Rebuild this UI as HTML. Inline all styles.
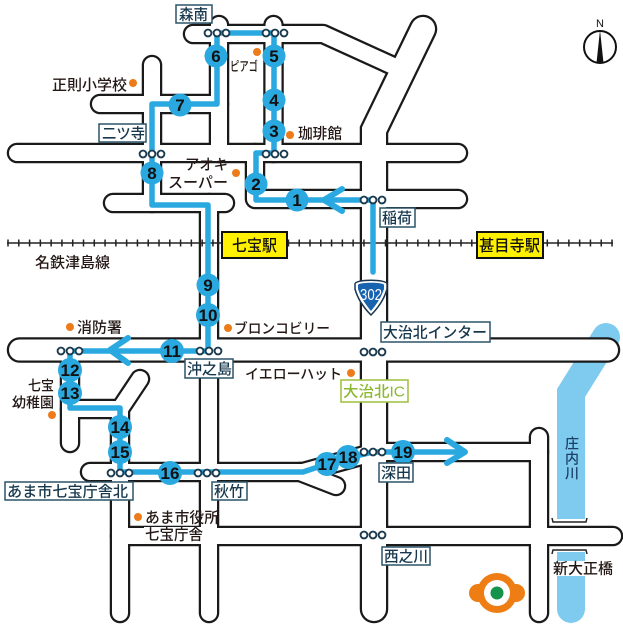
<!DOCTYPE html>
<html><head><meta charset="utf-8"><style>
html,body{margin:0;padding:0;background:#fff;}
svg{display:block;}
text{font-family:"Liberation Sans","Noto Sans CJK JP",sans-serif;}
</style></head><body>
<svg width="623" height="628" viewBox="0 0 623 628" xmlns="http://www.w3.org/2000/svg">
<rect width="623" height="628" fill="#fff"/>
<!-- river -->
<path d="M606,337 L571,393 L571,609" fill="none" stroke="#7ecbef" stroke-width="28" stroke-linecap="round" stroke-linejoin="miter"/>
<rect x="549" y="519" width="45" height="33" fill="#fff"/>

<!-- roads outline -->
<g fill="none" stroke="#1a1a1a" stroke-linecap="round" stroke-linejoin="round">
 <g stroke-width="20.5">
  <path d="M193,34 L323,34 L402,70"/>
  <path d="M219,25 L219,153"/>
  <path d="M273.5,25 L273.5,153"/>
  <path d="M17,153 L458,153"/>
  <path d="M152,65 L152,203"/>
  <path d="M100,104 L219,104"/>
  <path d="M113,203 L225,203"/>
  <path d="M209,203 L209,613"/>
  <path d="M255,153 L255,199 L458,199"/>
  <path d="M70,350 L70,443"/>
  <path d="M70,409 L120,409 L140,379"/>
  <path d="M120,409 L120,613"/>
  <path d="M90,472 L303,472 L372,453"/>
  <path d="M300,472 L336,486"/>
  <path d="M374,452 L539,452"/>
  <path d="M539,437 L539,613"/>
  <path d="M120,536 L613,536"/>
 </g>
 <path stroke-width="25.5" d="M19.5,350 L607.5,350"/>
 <path stroke-width="28.5" stroke-linejoin="miter" d="M374,609 L374,130 L423,29"/>
</g>
<!-- roads fill -->
<g fill="none" stroke="#fff" stroke-linecap="round" stroke-linejoin="round">
 <g stroke-width="16">
  <path d="M193,34 L323,34 L402,70"/>
  <path d="M219,25 L219,153"/>
  <path d="M273.5,25 L273.5,153"/>
  <path d="M17,153 L458,153"/>
  <path d="M152,65 L152,203"/>
  <path d="M100,104 L219,104"/>
  <path d="M113,203 L225,203"/>
  <path d="M209,203 L209,613"/>
  <path d="M255,153 L255,199 L458,199"/>
  <path d="M70,350 L70,443"/>
  <path d="M70,409 L120,409 L140,379"/>
  <path d="M120,409 L120,613"/>
  <path d="M90,472 L303,472 L372,453"/>
  <path d="M300,472 L336,486"/>
  <path d="M374,452 L539,452"/>
  <path d="M539,437 L539,613"/>
  <path d="M120,536 L613,536"/>
 </g>
 <path stroke-width="21" d="M19.5,350 L607.5,350"/>
 <path stroke-width="24" stroke-linejoin="miter" d="M374,609 L374,130 L423,29"/>
</g>

<!-- bridge brackets -->
<g fill="none" stroke="#222" stroke-width="1.5">
 <path d="M552,518 L553,522 L586,522 L587,518"/>
 <path d="M552,554 L553,550 L586,550 L587,554"/>
</g>

<!-- railway -->
<line x1="7" y1="243" x2="613" y2="243" stroke="#222" stroke-width="1.5"/>
<line x1="7.25" y1="243" x2="613" y2="243" stroke="#222" stroke-width="7" stroke-dasharray="1.5 9.286"/>

<!-- route -->
<g fill="none" stroke="#29a9e0" stroke-linejoin="round" stroke-linecap="round">
 <path stroke-width="5.5" d="M373,272 L373,200 L256,200 L256,153 L274,153 L274,33 L217,33 L217,104 L152,104 L152,205 L208,205 L208,351 L70,351 L70,408 L120,408 L120,472 L303,472 L327,464 L348,458 L373,452 L463,452"/>
 <path stroke-width="6" d="M342,189 L324,200 L342,211"/>
 <path stroke-width="6" d="M128,338 L110,350 L128,363"/>
 <path stroke-width="6" d="M447,440 L465,452 L447,463"/>
</g>

<!-- numbered circles -->
<g fill="#29a9e0">
 <circle cx="297" cy="200" r="11.5"/>
 <circle cx="256" cy="184" r="11.5"/>
 <circle cx="274" cy="131" r="11.5"/>
 <circle cx="274" cy="100" r="11.5"/>
 <circle cx="274" cy="56" r="11.5"/>
 <circle cx="216" cy="56" r="11.5"/>
 <circle cx="180" cy="105" r="11.5"/>
 <circle cx="152" cy="173" r="11.5"/>
 <circle cx="208" cy="285" r="11.5"/>
 <circle cx="208" cy="315" r="12"/>
 <circle cx="172" cy="351" r="12"/>
 <circle cx="70" cy="370" r="12"/>
 <circle cx="70" cy="393" r="12"/>
 <circle cx="120" cy="427" r="12"/>
 <circle cx="120" cy="452" r="12"/>
 <circle cx="170" cy="473" r="12"/>
 <circle cx="327" cy="464" r="12"/>
 <circle cx="348" cy="457" r="12"/>
 <circle cx="403" cy="452" r="12"/>
</g>
<g fill="#111" font-weight="bold" font-size="17" text-anchor="middle">
 <text x="297" y="206">1</text>
 <text x="256" y="190">2</text>
 <text x="274" y="137">3</text>
 <text x="274" y="106">4</text>
 <text x="274" y="62">5</text>
 <text x="216" y="62">6</text>
 <text x="180" y="111">7</text>
 <text x="152" y="179">8</text>
 <text x="208" y="291">9</text>
 <text x="208" y="321" textLength="19" lengthAdjust="spacingAndGlyphs">10</text>
 <text x="172" y="357" textLength="18" lengthAdjust="spacingAndGlyphs">11</text>
 <text x="70" y="376" textLength="19" lengthAdjust="spacingAndGlyphs">12</text>
 <text x="70" y="399" textLength="19" lengthAdjust="spacingAndGlyphs">13</text>
 <text x="120" y="433" textLength="19" lengthAdjust="spacingAndGlyphs">14</text>
 <text x="120" y="458" textLength="19" lengthAdjust="spacingAndGlyphs">15</text>
 <text x="170" y="479" textLength="19" lengthAdjust="spacingAndGlyphs">16</text>
 <text x="327" y="470" textLength="19" lengthAdjust="spacingAndGlyphs">17</text>
 <text x="348" y="463" textLength="19" lengthAdjust="spacingAndGlyphs">18</text>
 <text x="403" y="458" textLength="19" lengthAdjust="spacingAndGlyphs">19</text>
</g>

<!-- station icons -->
<g fill="#fff" stroke="#1b3a4e" stroke-width="1.9">
 <circle cx="208" cy="33" r="3.4"/><circle cx="217" cy="33" r="3.4"/><circle cx="226" cy="33" r="3.4"/>
 <circle cx="266" cy="33" r="3.4"/><circle cx="275" cy="33" r="3.4"/><circle cx="284" cy="33" r="3.4"/>
 <circle cx="266" cy="154" r="3.4"/><circle cx="275" cy="154" r="3.4"/><circle cx="284" cy="154" r="3.4"/>
 <circle cx="143" cy="154" r="3.4"/><circle cx="152" cy="154" r="3.4"/><circle cx="161" cy="154" r="3.4"/>
 <circle cx="364" cy="200" r="3.4"/><circle cx="373" cy="200" r="3.4"/><circle cx="382" cy="200" r="3.4"/>
 <circle cx="200" cy="351" r="3.4"/><circle cx="209" cy="351" r="3.4"/><circle cx="218" cy="351" r="3.4"/>
 <circle cx="61" cy="351" r="3.4"/><circle cx="70" cy="351" r="3.4"/><circle cx="79" cy="351" r="3.4"/>
 <circle cx="364" cy="352" r="3.4"/><circle cx="373" cy="352" r="3.4"/><circle cx="382" cy="352" r="3.4"/>
 <circle cx="111" cy="473" r="3.4"/><circle cx="120" cy="473" r="3.4"/><circle cx="129" cy="473" r="3.4"/>
 <circle cx="198" cy="473" r="3.4"/><circle cx="207" cy="473" r="3.4"/><circle cx="216" cy="473" r="3.4"/>
 <circle cx="364" cy="452" r="3.4"/><circle cx="373" cy="452" r="3.4"/><circle cx="382" cy="452" r="3.4"/>
 <circle cx="364" cy="535" r="3.4"/><circle cx="373" cy="535" r="3.4"/><circle cx="382" cy="535" r="3.4"/>
</g>

<!-- 302 shield -->
<path d="M355,284 C355,279 387,279 387,284 L387,289 C384,300 377,309 371,315 C365,309 358,300 355,289 Z" fill="#fff" stroke="#1b3550" stroke-width="1.5"/>
<path d="M358,285 C358,282 384,282 384,285 L384,289 C381,298 376,305 371,311 C366,305 361,298 358,289 Z" fill="#1763b0"/>
<text x="371" y="300" fill="#fff" font-size="16" text-anchor="middle" textLength="22" lengthAdjust="spacingAndGlyphs">302</text>

<!-- station label boxes -->
<g fill="#fff" stroke="#2b5468" stroke-width="1.5">
 <rect x="176" y="5" width="36" height="18"/>
 <rect x="99" y="124" width="47" height="18"/>
 <rect x="380" y="208" width="35" height="19"/>
 <rect x="185" y="359" width="48" height="19"/>
 <rect x="381" y="322" width="109" height="20"/>
 <rect x="5" y="482" width="128" height="18"/>
 <rect x="212" y="482" width="35" height="18"/>
 <rect x="379" y="463" width="34" height="19"/>
 <rect x="382" y="547" width="48" height="18"/>
</g>
<g fill="#17384d" font-size="15" font-weight="500">
 <text x="179" y="19.7" textLength="29" lengthAdjust="spacingAndGlyphs">森南</text>
 <text x="102" y="138.7" textLength="43" lengthAdjust="spacingAndGlyphs">二ツ寺</text>
 <text x="382" y="223.2" textLength="30" lengthAdjust="spacingAndGlyphs">稲荷</text>
 <text x="187" y="374.2" textLength="45" lengthAdjust="spacingAndGlyphs">沖之島</text>
 <text x="383" y="337.7" textLength="104" lengthAdjust="spacingAndGlyphs">大治北インター</text>
 <text x="7" y="496.7" textLength="121" lengthAdjust="spacingAndGlyphs">あま市七宝庁舎北</text>
 <text x="214" y="496.7" textLength="30" lengthAdjust="spacingAndGlyphs">秋竹</text>
 <text x="381" y="478.2" textLength="30" lengthAdjust="spacingAndGlyphs">深田</text>
 <text x="384" y="561.7" textLength="44" lengthAdjust="spacingAndGlyphs">西之川</text>
</g>
<rect x="341" y="380" width="67" height="22" fill="#fff" stroke="#9bbf3b" stroke-width="1.5"/>
<text x="343" y="396.7" fill="#8db831" font-size="15" font-weight="500" textLength="62" lengthAdjust="spacingAndGlyphs">大治北IC</text>

<!-- train stations -->
<rect x="222" y="232" width="65" height="26" fill="#fff100" stroke="#111" stroke-width="2"/>
<text x="232" y="251" fill="#111" font-size="16" font-weight="500" textLength="45" lengthAdjust="spacingAndGlyphs">七宝駅</text>
<rect x="477" y="232" width="66" height="26" fill="#fff100" stroke="#111" stroke-width="2"/>
<text x="479" y="251" fill="#111" font-size="16" font-weight="500" textLength="61" lengthAdjust="spacingAndGlyphs">甚目寺駅</text>

<!-- white backgrounds -->
<rect x="144" y="527" width="62" height="14" fill="#fff"/>
<rect x="551" y="561" width="64" height="15" fill="#fff"/>

<!-- landmark dots -->
<g fill="#ee7b1a">
 <circle cx="133" cy="83" r="4"/>
 <circle cx="257" cy="52" r="4"/>
 <circle cx="290" cy="135" r="4"/>
 <circle cx="236" cy="173" r="4"/>
 <circle cx="70" cy="327" r="4"/>
 <circle cx="228" cy="328" r="4"/>
 <circle cx="351" cy="373" r="4"/>
 <circle cx="52" cy="415" r="4"/>
 <circle cx="138" cy="517" r="4"/>
</g>

<!-- plain labels -->
<g fill="#231815" font-size="15" font-weight="500">
 <text x="52" y="90.2" textLength="75" lengthAdjust="spacingAndGlyphs">正則小学校</text>
 <text x="230" y="70.8" font-size="13" textLength="28" lengthAdjust="spacingAndGlyphs">ピアゴ</text>
 <text x="298" y="138.7" textLength="44" lengthAdjust="spacingAndGlyphs">珈琲館</text>
 <text x="185" y="169.7" textLength="43" lengthAdjust="spacingAndGlyphs">アオキ</text>
 <text x="168" y="187.7" textLength="60" lengthAdjust="spacingAndGlyphs">スーパー</text>
 <text x="35" y="267.7" textLength="75" lengthAdjust="spacingAndGlyphs">名鉄津島線</text>
 <text x="77" y="332.7" textLength="45" lengthAdjust="spacingAndGlyphs">消防署</text>
 <text x="234" y="333.5" font-size="14" textLength="96" lengthAdjust="spacingAndGlyphs">ブロンコビリー</text>
 <text x="245" y="379" font-size="14" textLength="97" lengthAdjust="spacingAndGlyphs">イエローハット</text>
 <text x="28" y="390.3" font-size="14" textLength="26" lengthAdjust="spacingAndGlyphs">七宝</text>
 <text x="12" y="407.3" font-size="14" textLength="42" lengthAdjust="spacingAndGlyphs">幼稚園</text>
 <text x="145" y="522.7" textLength="74" lengthAdjust="spacingAndGlyphs">あま市役所</text>
 <text x="145" y="539.7" textLength="58" lengthAdjust="spacingAndGlyphs">七宝庁舎</text>
 <text x="553" y="573.7" textLength="60" lengthAdjust="spacingAndGlyphs">新大正橋</text>
</g>
<g fill="#1d3f66" font-size="14" text-anchor="middle" font-weight="500">
 <text x="572" y="448.3">庄</text>
 <text x="572" y="463.3">内</text>
 <text x="572" y="478.3">川</text>
</g>

<!-- north arrow -->
<circle cx="600" cy="47" r="16" fill="#fff" stroke="#111" stroke-width="2"/>
<polygon points="600,30 596.5,63 603.5,63" fill="#111"/>
<text x="600" y="27" font-size="11" text-anchor="middle" fill="#111">N</text>

<!-- logo -->
<g fill="#ee7d14">
 <circle cx="497" cy="593" r="20"/>
 <circle cx="478" cy="593" r="9"/>
 <circle cx="516" cy="593" r="9"/>
</g>
<circle cx="497" cy="593" r="13" fill="#fff"/>
<circle cx="497" cy="593" r="6.5" fill="#16934a"/>
</svg>
</body></html>
